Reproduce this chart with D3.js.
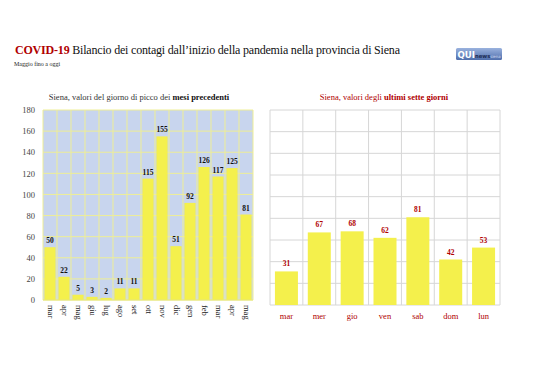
<!DOCTYPE html>
<html>
<head>
<meta charset="utf-8">
<script src="https://cdn.jsdelivr.net/npm/d3@7"></script>
<style>
  body { margin: 0; background: #fff; }
  svg { font-family: "Liberation Serif", "DejaVu Serif", serif; }
</style>
</head>
<body>
<div id="chart"></div>
<script>
// data
const monthLabels = ['mar','apr','mag','giu','lug','ago','set','ott','nov','dic','gen','feb','mar','apr','mag']
const monthPeaks = [50,22,5,3,2,11,11,115,155,51,92,126,117,125,81]
const dayLabels = ['mar','mer','gio','ven','sab','dom','lun']
const dayValues = [31,67,68,62,81,42,53]
const yTicks = [0,20,40,60,80,100,120,140,160,180]

const W = 538, H = 380
const red = '#b00000'
const barColor = '#f4f04c'

const svg = d3.select('#chart').append('svg')
  .attr('width', W).attr('height', H)

// header
const title = svg.append('text').attr('x', 15).attr('y', 54).attr('font-size', 12)
  .attr('textLength', 385).attr('lengthAdjust', 'spacing')
title.append('tspan').attr('fill', red).attr('font-weight', 'bold').text('COVID-19')
title.append('tspan').attr('fill', '#111').text(' Bilancio dei contagi dall\u2019inizio della pandemia nella provincia di Siena')
svg.append('text').attr('x', 14).attr('y', 66).attr('font-size', 6)
  .attr('fill', '#222').text('Maggio fino a oggi')

// logo
const logo = svg.append('g').attr('transform', 'translate(456,48)')
const grad = svg.append('defs').append('linearGradient').attr('id', 'lg')
  .attr('x1', 0).attr('x2', 0).attr('y1', 0).attr('y2', 1)
grad.append('stop').attr('offset', '0%').attr('stop-color', '#9ab2de')
grad.append('stop').attr('offset', '100%').attr('stop-color', '#4f6eac')
logo.append('rect').attr('width', 46).attr('height', 12).attr('rx', 1.5).attr('fill', 'url(#lg)')
const lt = logo.append('text').attr('x', 1.5).attr('y', 10).attr('font-family', 'DejaVu Sans, sans-serif')
  .attr('textLength', 43).attr('lengthAdjust', 'spacingAndGlyphs')
lt.append('tspan').attr('font-size', 9).attr('font-weight', 'bold').attr('fill', '#fff').text('QUI')
lt.append('tspan').attr('font-size', 5.5).attr('font-weight', 'bold').attr('fill', '#1d2c55').text('news')
lt.append('tspan').attr('font-size', 4).attr('fill', '#d4ddf0').text('siena')

// ---------- left chart: monthly peaks ----------
const L = {x0: 43, x1: 253, y0: 110, y1: 300}
const xL = d3.scaleBand().domain(d3.range(monthLabels.length))
  .range([L.x0, L.x1]).paddingInner(0.2).paddingOuter(0.1)
const xLgrid = d3.scaleBand().domain(d3.range(monthLabels.length)).range([L.x0, L.x1])
const yL = d3.scaleLinear().domain([0, 180]).range([L.y1, L.y0])

const gL = svg.append('g')
gL.append('rect').attr('x', L.x0).attr('y', L.y0)
  .attr('width', L.x1 - L.x0).attr('height', L.y1 - L.y0).attr('fill', '#c8d5ee')

gL.selectAll('line.h').data(yTicks).join('line').attr('class', 'h')
  .attr('x1', L.x0).attr('x2', L.x1)
  .attr('y1', d => yL(d)).attr('y2', d => yL(d))
  .attr('stroke', '#eeee96').attr('stroke-width', 1)
gL.selectAll('line.v').data(d3.range(monthLabels.length + 1)).join('line').attr('class', 'v')
  .attr('x1', d => L.x0 + d * xLgrid.step()).attr('x2', d => L.x0 + d * xLgrid.step())
  .attr('y1', L.y0).attr('y2', L.y1)
  .attr('stroke', '#eeee96').attr('stroke-width', 1)

gL.selectAll('rect.bar').data(monthPeaks).join('rect').attr('class', 'bar')
  .attr('x', (d, i) => xL(i)).attr('width', xL.bandwidth())
  .attr('y', d => yL(d)).attr('height', d => yL(0) - yL(d))
  .attr('fill', barColor)

gL.selectAll('text.val').data(monthPeaks).join('text').attr('class', 'val')
  .attr('x', (d, i) => xL(i) + xL.bandwidth() / 2).attr('y', d => yL(d) - 4)
  .attr('text-anchor', 'middle').attr('font-size', 7.5).attr('font-weight', 'bold')
  .attr('fill', '#111').text(d => d)

gL.append('line').attr('x1', L.x0).attr('x2', L.x1).attr('y1', L.y1).attr('y2', L.y1)
  .attr('stroke', '#e6e67a')

const yAxisL = gL.append('g').attr('transform', `translate(${L.x0},0)`)
  .call(d3.axisLeft(yL).tickValues(yTicks).tickSize(0).tickPadding(8))
yAxisL.select('.domain').remove()
yAxisL.selectAll('text').attr('font-family', 'Liberation Serif, serif')
  .attr('font-size', 8.5).attr('fill', '#444')

gL.selectAll('text.xl').data(monthLabels).join('text').attr('class', 'xl')
  .attr('transform', (d, i) => `translate(${xLgrid(i) + xLgrid.bandwidth() / 2},${L.y1 + 5}) rotate(90)`)
  .attr('text-anchor', 'start').attr('dominant-baseline', 'middle')
  .attr('font-size', 8.5).attr('fill', '#222').text(d => d)

const stL = svg.append('text').attr('x', 139).attr('y', 100)
  .attr('text-anchor', 'middle').attr('font-size', 8.5).attr('fill', '#333')
stL.append('tspan').text('Siena, valori del giorno di picco dei ')
stL.append('tspan').attr('font-weight', 'bold').attr('fill', '#111').text('mesi precedenti')

// ---------- right chart: last seven days ----------
const R = {x0: 270, x1: 500, y0: 110, y1: 305}
const xR = d3.scaleBand().domain(d3.range(dayLabels.length))
  .range([R.x0, R.x1]).paddingInner(0.3).paddingOuter(0.15)
const xRgrid = d3.scaleBand().domain(d3.range(dayLabels.length)).range([R.x0, R.x1])
const yR = d3.scaleLinear().domain([0, 180]).range([R.y1, R.y0])

const gR = svg.append('g')
gR.selectAll('line.h').data(yTicks).join('line').attr('class', 'h')
  .attr('x1', R.x0).attr('x2', R.x1)
  .attr('y1', d => yR(d)).attr('y2', d => yR(d))
  .attr('stroke', '#d6d6d6').attr('stroke-width', 1)
gR.selectAll('line.v').data(d3.range(dayLabels.length + 1)).join('line').attr('class', 'v')
  .attr('x1', d => R.x0 + d * xRgrid.step()).attr('x2', d => R.x0 + d * xRgrid.step())
  .attr('y1', R.y0).attr('y2', R.y1)
  .attr('stroke', '#d6d6d6').attr('stroke-width', 1)

gR.selectAll('rect.bar').data(dayValues).join('rect').attr('class', 'bar')
  .attr('x', (d, i) => xR(i)).attr('width', xR.bandwidth())
  .attr('y', d => yR(d)).attr('height', d => yR(0) - yR(d))
  .attr('fill', barColor)

gR.selectAll('text.val').data(dayValues).join('text').attr('class', 'val')
  .attr('x', (d, i) => xR(i) + xR.bandwidth() / 2).attr('y', d => yR(d) - 5)
  .attr('text-anchor', 'middle').attr('font-size', 7.5).attr('font-weight', 'bold')
  .attr('fill', red).text(d => d)

gR.selectAll('text.xl').data(dayLabels).join('text').attr('class', 'xl')
  .attr('x', (d, i) => xRgrid(i) + xRgrid.bandwidth() / 2).attr('y', R.y1 + 14)
  .attr('text-anchor', 'middle').attr('font-size', 8.5).attr('fill', red).text(d => d)

const stR = svg.append('text').attr('x', 384).attr('y', 100)
  .attr('text-anchor', 'middle').attr('font-size', 8.5).attr('fill', red)
stR.append('tspan').text('Siena, valori degli ')
stR.append('tspan').attr('font-weight', 'bold').text('ultimi sette giorni')
</script>
</body>
</html>
